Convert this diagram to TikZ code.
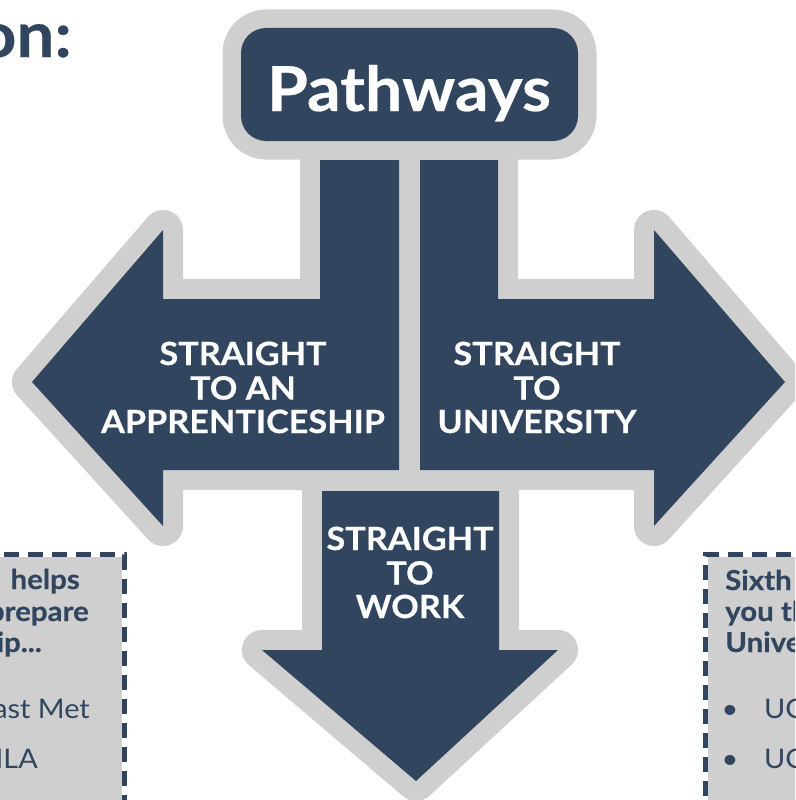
\documentclass[tikz,border=0pt]{standalone}
\usepackage{fontspec}
\setmainfont{Lato}
\newfontfamily\wide[FakeStretch=1.07, BoldFeatures={FakeBold=0.4}]{Lato}
\definecolor{navy}{HTML}{31465E}
\definecolor{lgray}{HTML}{CFCFCF}
\begin{document}
\begin{tikzpicture}[x=1pt,y=-1pt,
  halo/.style={draw=lgray, fill=lgray, line width=40pt, line join=round},
  body/.style={fill=navy},
  arrowtxt/.style={text=white, font=\wide\bfseries\fontsize{32}{36}\selectfont, anchor=base, inner sep=0pt},
  boxbold/.style={text=navy, font=\wide\bfseries\fontsize{27.5}{30}\selectfont, inner sep=0pt},
  boxreg/.style={text=navy, font=\wide\fontsize{27}{30}\selectfont, inner sep=0pt},
  dashline/.style={draw=navy, line width=5pt, dash pattern=on 15pt off 9pt}
]
\clip (0,0) rectangle (795,800);
% gray halos
\draw[halo, line width=37pt, rounded corners=25pt] (241,28) rectangle (578,141);
\draw[halo] (320,160) -- (399,160) -- (399,470) -- (163,470) -- (163,526) -- (32,382) -- (163,230) -- (163,299) -- (320,299) -- cycle;
\draw[halo] (420,160) -- (498,160) -- (498,299) -- (654,299) -- (654,230) -- (785,382) -- (654,526) -- (654,470) -- (420,470) -- cycle;
\draw[halo] (322,491) -- (499,491) -- (499,650) -- (558,650) -- (416,781) -- (262,650) -- (322,650) -- cycle;
% navy bodies
\fill[body, rounded corners=25pt] (241,28) rectangle (578,141);
\fill[body] (320,160) -- (399,160) -- (399,470) -- (163,470) -- (163,526) -- (32,382) -- (163,230) -- (163,299) -- (320,299) -- cycle;
\fill[body] (420,160) -- (498,160) -- (498,299) -- (654,299) -- (654,230) -- (785,382) -- (654,526) -- (654,470) -- (420,470) -- cycle;
\fill[body] (322,491) -- (499,491) -- (499,650) -- (558,650) -- (416,781) -- (262,650) -- (322,650) -- cycle;
% title
\node[text=white, font=\wide\bfseries\fontsize{62}{76}\selectfont, anchor=base, inner sep=0pt] (pathways) at (409,111) {Pathways};
\node[text=navy, font=\wide\bfseries\fontsize{63}{70}\selectfont, anchor=base east, inner sep=0pt] (heading) at (72,57) {on:};
% arrow labels
\node[arrowtxt] (l1) at (243,365) {STRAIGHT};
\node[arrowtxt] (l2) at (243,399.5) {TO AN};
\node[arrowtxt] (l3) at (243,433) {APPRENTICESHIP};
\node[arrowtxt] (r1) at (537,365) {STRAIGHT};
\node[arrowtxt] (r2) at (537,399.5) {TO};
\node[arrowtxt] (r3) at (537,433) {UNIVERSITY};
\node[arrowtxt] (d1) at (410,550) {STRAIGHT};
\node[arrowtxt] (d2) at (410,584.5) {TO};
\node[arrowtxt] (d3) at (410,618) {WORK};
% left box
\fill[lgray] (-20,557) rectangle (121.5,820);
\draw[dashline] (-20,554.5) -- (124,554.5) -- (124,820);
\node[boxbold, anchor=base east] (lb1) at (80,589) {helps};
\node[boxbold, anchor=base east] (lb2) at (89,621) {prepare};
\node[boxbold, anchor=base east] (lb3) at (42,652) {ip...};
\node[boxreg, anchor=base east] (lb4) at (90,718) {ast Met};
\node[boxreg, anchor=base east] (lb5) at (38,768) {ILA};
% right box
\fill[lgray] (707.5,557) rectangle (820,820);
\draw[dashline] (705,820) -- (705,554.5) -- (820,554.5);
\node[boxbold, anchor=base west] (rb1) at (725,590) {Sixth};
\node[boxbold, anchor=base west] (rb2) at (725,621) {you th};
\node[boxbold, anchor=base west] (rb3) at (725,652) {Unive};
\node[boxreg, anchor=base] (bul1) at (730,718) {•};
\node[boxreg, anchor=base west] (rb4) at (764,718) {UC};
\node[boxreg, anchor=base] (bul2) at (730,768) {•};
\node[boxreg, anchor=base west] (rb5) at (764,768) {UC};
\end{tikzpicture}
\end{document}
